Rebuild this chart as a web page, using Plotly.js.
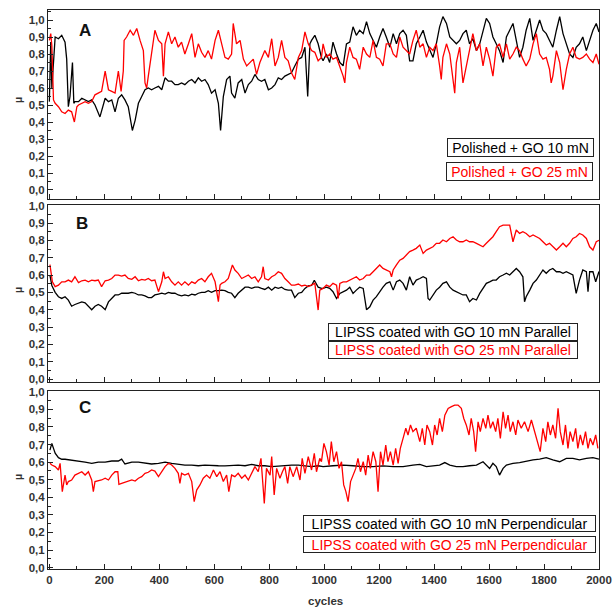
<!DOCTYPE html>
<html>
<head>
<meta charset="utf-8">
<script src="https://cdn.plot.ly/plotly-3.0.1.min.js"></script>
<style>html,body{margin:0;padding:0;background:#fff;}#chart{width:616px;height:608px;}</style>
</head>
<body>
<div id="chart"></div>
<script>
// ---------- DATA ----------
const panelLabels = ["A", "B", "C"];
const seriesNames = [
  ["Polished + GO 10 mN", "Polished + GO 25 mN"],
  ["LIPSS coated with GO 10 mN Parallel", "LIPSS coated with GO 25 mN Parallel"],
  ["LIPSS coated with GO 10 mN Perpendicular", "LIPSS coated with GO 25 mN Perpendicular"]
];
const xTickVals = [0,200,400,600,800,1000,1200,1400,1600,1800,2000];
const xTitle = "cycles";
const yTitle = "μ";

const aBlackX = [0,5,9,21,33,45,57,63,69,75,84,89,93,106,118,130,142,154,166,184,203,215,227,239,251,263,275,287,296,302,312,324,336,348,360,372,384,397,409,421,433,445,457,469,481,493,506,518,530,542,554,566,578,590,603,615,623,633,645,657,663,675,687,700,712,724,736,748,760,772,784,797,809,821,833,845,857,869,881,893,906,918,930,940,948,954,966,978,990,996,1008,1020,1032,1045,1057,1069,1081,1093,1105,1117,1129,1142,1154,1166,1178,1190,1202,1214,1226,1239,1251,1263,1275,1287,1299,1311,1323,1335,1348,1360,1372,1384,1396,1408,1420,1432,1445,1457,1469,1481,1493,1505,1517,1529,1541,1554,1566,1578,1590,1602,1614,1626,1638,1651,1663,1675,1687,1699,1711,1723,1735,1748,1760,1772,1784,1796,1808,1820,1832,1845,1857,1869,1881,1893,1905,1917,1929,1941,1954,1966,1978,1990,2000];
const aBlackY = [0.52,0.87,0.60,0.90,0.89,0.91,0.87,0.77,0.49,0.55,0.75,0.51,0.52,0.52,0.54,0.53,0.52,0.53,0.50,0.43,0.54,0.52,0.53,0.46,0.54,0.56,0.53,0.49,0.41,0.35,0.41,0.51,0.55,0.59,0.60,0.59,0.60,0.61,0.59,0.66,0.64,0.64,0.62,0.62,0.63,0.62,0.64,0.65,0.63,0.66,0.64,0.65,0.62,0.57,0.59,0.51,0.35,0.55,0.65,0.67,0.57,0.54,0.63,0.65,0.57,0.62,0.64,0.68,0.65,0.64,0.65,0.59,0.60,0.62,0.66,0.65,0.67,0.68,0.69,0.73,0.77,0.78,0.84,0.55,0.86,0.88,0.91,0.86,0.78,0.76,0.80,0.75,0.87,0.80,0.75,0.73,0.86,0.87,0.96,0.91,0.94,0.92,0.99,0.92,0.88,0.84,0.90,0.95,0.90,0.84,0.92,0.86,0.92,0.94,0.91,0.76,0.76,0.86,0.90,0.94,0.87,0.82,0.78,0.86,0.96,1.02,0.98,0.90,0.88,0.86,0.88,0.92,0.94,0.86,0.89,0.82,0.86,0.94,1.01,0.98,0.90,0.86,0.82,0.75,0.90,0.94,0.98,0.88,0.78,0.84,0.94,1.01,0.88,0.94,1.00,0.94,0.92,0.88,0.84,0.94,1.02,0.92,0.86,0.80,0.78,0.84,0.86,0.90,0.82,0.88,0.94,0.98,0.93];

const aRedX = [0,5,9,15,21,33,45,57,69,81,91,100,106,118,130,142,154,166,178,190,203,215,227,239,251,261,269,272,281,294,306,318,330,342,348,354,360,372,384,397,409,415,421,433,445,457,469,481,493,506,518,530,542,554,566,578,590,603,615,627,639,651,663,669,681,694,706,718,730,742,754,766,784,797,809,821,833,845,857,869,881,893,906,918,930,942,954,966,978,990,996,1008,1020,1032,1045,1057,1069,1075,1081,1093,1105,1117,1129,1142,1154,1166,1178,1190,1202,1214,1226,1239,1251,1263,1275,1287,1299,1311,1323,1335,1348,1360,1372,1384,1396,1408,1420,1426,1432,1445,1457,1469,1475,1481,1493,1505,1517,1529,1541,1554,1566,1578,1590,1602,1614,1626,1638,1651,1663,1675,1687,1699,1711,1723,1735,1748,1760,1772,1784,1796,1808,1820,1826,1832,1845,1857,1869,1881,1893,1905,1917,1929,1941,1954,1966,1978,1990,2000];
const aRedY = [0.88,0.92,0.85,0.53,0.51,0.49,0.46,0.45,0.47,0.46,0.40,0.49,0.50,0.51,0.52,0.51,0.52,0.56,0.57,0.58,0.70,0.59,0.58,0.57,0.70,0.58,0.70,0.88,0.90,0.94,0.91,0.95,0.88,0.82,0.63,0.60,0.67,0.82,0.94,0.88,0.86,0.67,0.86,0.93,0.86,0.90,0.84,0.87,0.80,0.86,0.92,0.78,0.86,0.81,0.78,0.82,0.77,0.88,0.94,0.86,0.78,0.77,0.80,0.98,0.86,0.88,0.77,0.73,0.75,0.77,0.68,0.75,0.82,0.78,0.89,0.73,0.78,0.88,0.78,0.76,0.69,0.65,0.78,0.82,0.93,0.86,0.82,0.81,0.76,0.78,0.86,0.78,0.80,0.77,0.78,0.73,0.67,0.63,0.75,0.84,0.78,0.77,0.71,0.84,0.80,0.78,0.88,0.78,0.77,0.73,0.86,0.86,0.80,0.78,0.90,0.84,0.82,0.80,0.88,0.94,0.84,0.86,0.78,0.84,0.82,0.86,0.73,0.65,0.78,0.86,0.80,0.63,0.57,0.75,0.84,0.63,0.73,0.84,0.92,0.82,0.86,0.73,0.84,0.77,0.67,0.84,0.86,0.78,0.86,0.77,0.80,0.84,0.82,0.77,0.73,0.77,0.86,0.92,0.80,0.77,0.78,0.71,0.63,0.67,0.82,0.75,0.59,0.71,0.80,0.84,0.78,0.77,0.78,0.80,0.77,0.75,0.80,0.74];

const bBlackX = [2,9,21,33,45,57,69,81,93,106,118,130,142,154,166,178,190,203,215,227,239,251,263,275,287,300,312,324,336,348,360,372,384,397,409,421,433,445,457,469,481,493,506,518,530,542,554,566,578,590,603,615,627,639,651,663,675,687,700,712,724,736,748,760,772,784,797,809,821,833,845,857,869,881,893,906,918,930,942,954,964,978,990,996,1008,1020,1032,1045,1057,1069,1081,1093,1105,1117,1129,1142,1154,1166,1178,1190,1202,1214,1226,1239,1251,1263,1275,1287,1299,1311,1323,1335,1348,1360,1372,1378,1384,1396,1408,1420,1432,1445,1457,1469,1481,1493,1505,1517,1529,1541,1554,1566,1578,1590,1602,1614,1626,1638,1651,1663,1675,1687,1699,1711,1723,1729,1735,1748,1760,1772,1784,1796,1808,1820,1832,1845,1857,1869,1881,1893,1905,1917,1929,1941,1954,1960,1966,1978,1988,2000];
const bBlackY = [0.60,0.54,0.50,0.475,0.465,0.475,0.455,0.42,0.43,0.44,0.445,0.44,0.42,0.40,0.42,0.43,0.42,0.40,0.445,0.465,0.485,0.485,0.495,0.495,0.495,0.50,0.495,0.485,0.485,0.48,0.47,0.47,0.485,0.49,0.495,0.49,0.50,0.495,0.495,0.485,0.48,0.485,0.48,0.49,0.485,0.495,0.50,0.50,0.51,0.50,0.51,0.51,0.513,0.51,0.50,0.495,0.47,0.495,0.513,0.53,0.53,0.523,0.53,0.53,0.523,0.517,0.53,0.513,0.53,0.523,0.53,0.517,0.513,0.513,0.47,0.495,0.50,0.523,0.537,0.54,0.57,0.53,0.523,0.523,0.53,0.523,0.504,0.465,0.494,0.504,0.513,0.53,0.494,0.513,0.53,0.523,0.40,0.417,0.455,0.475,0.504,0.53,0.552,0.561,0.513,0.561,0.571,0.552,0.513,0.59,0.542,0.571,0.58,0.59,0.58,0.465,0.456,0.485,0.513,0.53,0.552,0.561,0.53,0.513,0.504,0.494,0.485,0.485,0.446,0.465,0.456,0.494,0.523,0.552,0.561,0.571,0.571,0.59,0.60,0.61,0.60,0.619,0.638,0.619,0.59,0.446,0.475,0.513,0.552,0.571,0.60,0.629,0.61,0.629,0.638,0.619,0.619,0.61,0.619,0.61,0.60,0.494,0.571,0.629,0.619,0.504,0.619,0.619,0.561,0.62];

const bRedX = [2,11,21,33,45,57,69,81,93,106,118,130,142,154,166,178,190,203,215,227,239,251,263,275,287,300,312,324,336,348,360,372,384,397,409,415,421,433,445,457,469,481,493,506,518,530,542,554,566,578,590,603,615,621,627,639,651,666,675,687,700,712,724,736,748,760,772,778,784,797,809,821,833,845,857,869,881,893,906,918,930,942,954,966,978,984,996,1008,1020,1032,1045,1051,1057,1069,1081,1093,1105,1117,1129,1142,1154,1166,1178,1190,1202,1214,1226,1239,1245,1251,1263,1275,1287,1299,1311,1323,1335,1348,1360,1372,1384,1396,1408,1420,1432,1445,1457,1469,1481,1493,1505,1517,1529,1541,1554,1566,1578,1590,1602,1614,1626,1638,1651,1663,1675,1687,1699,1711,1723,1735,1748,1760,1772,1784,1796,1808,1820,1832,1845,1857,1869,1881,1893,1905,1917,1929,1941,1954,1966,1978,1990,2000];
const bRedY = [0.66,0.561,0.533,0.542,0.561,0.561,0.571,0.561,0.59,0.556,0.567,0.571,0.561,0.571,0.567,0.571,0.533,0.567,0.571,0.58,0.60,0.60,0.594,0.60,0.58,0.575,0.59,0.567,0.575,0.571,0.58,0.567,0.571,0.504,0.561,0.619,0.58,0.59,0.561,0.542,0.561,0.542,0.561,0.542,0.561,0.552,0.571,0.58,0.561,0.59,0.61,0.561,0.446,0.542,0.552,0.561,0.58,0.658,0.629,0.61,0.58,0.59,0.60,0.58,0.59,0.561,0.59,0.648,0.58,0.571,0.59,0.60,0.619,0.61,0.58,0.561,0.542,0.542,0.548,0.537,0.542,0.533,0.542,0.552,0.398,0.513,0.523,0.542,0.533,0.552,0.542,0.465,0.552,0.561,0.561,0.571,0.58,0.59,0.571,0.58,0.60,0.60,0.619,0.638,0.658,0.638,0.629,0.619,0.59,0.629,0.658,0.686,0.696,0.715,0.735,0.744,0.754,0.773,0.725,0.744,0.754,0.763,0.783,0.783,0.802,0.792,0.811,0.821,0.802,0.792,0.792,0.802,0.792,0.792,0.783,0.773,0.763,0.783,0.802,0.821,0.85,0.879,0.888,0.888,0.888,0.792,0.86,0.84,0.85,0.84,0.821,0.831,0.821,0.811,0.792,0.773,0.783,0.763,0.744,0.763,0.783,0.763,0.783,0.811,0.821,0.84,0.831,0.811,0.763,0.744,0.792,0.80];

const cBlackX = [2,9,15,21,33,45,57,81,106,130,154,178,203,227,251,263,275,300,324,348,372,397,421,445,469,493,518,542,566,590,615,639,663,687,712,736,760,784,809,833,857,881,906,930,954,978,996,1032,1069,1105,1142,1178,1214,1251,1287,1323,1348,1372,1396,1420,1439,1457,1481,1505,1529,1554,1578,1590,1602,1614,1626,1638,1651,1663,1687,1711,1735,1760,1784,1808,1832,1857,1881,1905,1929,1954,1978,2000];
const cBlackY = [0.668,0.706,0.678,0.65,0.625,0.616,0.616,0.612,0.606,0.60,0.593,0.60,0.60,0.606,0.606,0.617,0.589,0.60,0.60,0.593,0.589,0.593,0.60,0.593,0.587,0.583,0.583,0.579,0.583,0.579,0.579,0.578,0.579,0.583,0.579,0.587,0.579,0.579,0.574,0.578,0.579,0.583,0.583,0.579,0.574,0.579,0.574,0.579,0.583,0.579,0.574,0.574,0.578,0.574,0.574,0.583,0.587,0.574,0.579,0.583,0.597,0.583,0.574,0.574,0.579,0.583,0.602,0.583,0.564,0.593,0.574,0.526,0.564,0.583,0.593,0.597,0.606,0.612,0.617,0.625,0.612,0.602,0.621,0.621,0.612,0.621,0.625,0.617];

const cRedX = [2,9,21,33,39,47,57,63,69,81,93,106,118,130,142,154,160,166,178,190,203,215,227,239,249,253,263,275,287,300,312,324,336,348,360,372,384,397,409,421,433,445,457,469,475,481,493,506,518,527,536,548,560,572,584,597,609,621,633,645,653,663,675,687,700,712,724,736,748,760,770,778,782,790,803,809,818,827,839,848,857,867,875,887,900,912,920,930,942,954,964,972,984,990,999,1008,1018,1026,1035,1045,1054,1063,1071,1079,1087,1096,1105,1115,1123,1132,1142,1151,1160,1168,1178,1188,1196,1205,1214,1224,1232,1241,1251,1260,1269,1277,1287,1297,1305,1314,1323,1335,1348,1357,1366,1374,1384,1394,1402,1411,1420,1430,1439,1451,1463,1475,1487,1499,1508,1517,1527,1535,1544,1551,1560,1568,1578,1588,1596,1605,1614,1624,1632,1641,1651,1660,1669,1677,1687,1697,1705,1717,1729,1742,1754,1766,1778,1786,1796,1806,1814,1823,1832,1842,1851,1859,1869,1878,1887,1895,1905,1915,1923,1932,1941,1951,1960,1968,1978,1988,1996];
const cRedY = [0.593,0.583,0.574,0.555,0.593,0.432,0.526,0.47,0.489,0.498,0.526,0.536,0.545,0.526,0.545,0.498,0.432,0.489,0.492,0.498,0.508,0.498,0.526,0.545,0.545,0.473,0.479,0.485,0.492,0.498,0.492,0.508,0.517,0.536,0.542,0.555,0.549,0.517,0.545,0.574,0.593,0.583,0.564,0.536,0.479,0.536,0.526,0.536,0.489,0.375,0.441,0.47,0.508,0.526,0.508,0.555,0.517,0.545,0.489,0.526,0.432,0.526,0.517,0.536,0.508,0.526,0.498,0.536,0.574,0.545,0.621,0.451,0.365,0.564,0.526,0.631,0.413,0.564,0.508,0.545,0.574,0.479,0.574,0.517,0.574,0.498,0.621,0.536,0.631,0.555,0.65,0.545,0.621,0.602,0.706,0.659,0.583,0.716,0.602,0.659,0.564,0.602,0.47,0.432,0.375,0.489,0.526,0.564,0.621,0.545,0.602,0.526,0.64,0.564,0.659,0.602,0.432,0.659,0.583,0.697,0.602,0.659,0.583,0.678,0.593,0.678,0.735,0.792,0.754,0.811,0.773,0.792,0.716,0.792,0.697,0.811,0.773,0.697,0.811,0.754,0.848,0.773,0.867,0.905,0.915,0.924,0.924,0.905,0.848,0.811,0.754,0.848,0.773,0.659,0.829,0.773,0.848,0.792,0.867,0.792,0.829,0.773,0.848,0.735,0.886,0.792,0.867,0.773,0.829,0.754,0.839,0.792,0.829,0.773,0.839,0.773,0.716,0.659,0.792,0.716,0.829,0.754,0.811,0.735,0.905,0.773,0.697,0.811,0.678,0.773,0.716,0.792,0.678,0.754,0.697,0.773,0.678,0.735,0.697,0.754,0.678];

// ---------- LAYOUT HELPERS ----------
const W = 616, H = 608;
const PL = 48, PR = 599, PT = 10, PB = 569;
const px = v => (v - PL) / (PR - PL);
const py = v => (PB - v) / (PB - PT);
const FONT = "Liberation Sans, Arial, Helvetica, sans-serif";
const BLACK = "#000000", RED = "#ff0000";

const panels = [
  {bx: aBlackX, by: aBlackY, rx: aRedX, ry: aRedY, top: 10, bot: 199, yr: [-0.053, 1.059]},
  {bx: bBlackX, by: bBlackY, rx: bRedX, ry: bRedY, top: 205, bot: 382, yr: [-0.017, 1.004]},
  {bx: cBlackX, by: cBlackY, rx: cRedX, ry: cRedY, top: 391, bot: 569, yr: [-0.008, 1.004]}
];

const traces = [];
const layout = {
  width: W, height: H,
  margin: {l: PL, r: W - PR, t: PT, b: H - PB},
  paper_bgcolor: "#ffffff", plot_bgcolor: "#ffffff",
  showlegend: false,
  separators: ",.",
  font: {family: FONT, color: "#222"},
  annotations: []
};

panels.forEach((p, i) => {
  const n = i === 0 ? "" : String(i + 1);
  traces.push({x: p.bx, y: p.by, type: "scatter", mode: "lines", line: {color: BLACK, width: 1.3}, xaxis: "x" + n, yaxis: "y" + n, name: seriesNames[i][0], hoverinfo: "skip"});
  traces.push({x: p.rx, y: p.ry, type: "scatter", mode: "lines", line: {color: RED, width: 1.3}, xaxis: "x" + n, yaxis: "y" + n, name: seriesNames[i][1], hoverinfo: "skip"});
  layout["xaxis" + n] = {
    domain: [0, 1], anchor: "y" + n, range: [-5, 2000],
    showline: true, mirror: true, linecolor: "#222", linewidth: 1,
    ticks: "inside", ticklen: 5, tickwidth: 1, tickcolor: "#222",
    tickvals: xTickVals, ticktext: xTickVals.map(String),
    minor: {ticks: "inside", ticklen: 3, dtick: 100, tick0: 0, tickcolor: "#222"},
    showgrid: false, zeroline: false,
    showticklabels: i === 2,
    tickfont: {family: FONT, size: 11.5, color: "#333", weight: "bold"}
  };
  layout["yaxis" + n] = {
    domain: [py(p.bot), py(p.top)], anchor: "x" + n, range: p.yr,
    showline: true, mirror: true, linecolor: "#222", linewidth: 1,
    ticks: "inside", ticklen: 5, tickwidth: 1, tickcolor: "#222",
    dtick: 0.1, tick0: 0, tickformat: ".1f",
    minor: {ticks: "inside", ticklen: 3, dtick: 0.05, tick0: 0, tickcolor: "#222"},
    showgrid: false, zeroline: false,
    tickfont: {family: FONT, size: 11.5, color: "#333", weight: "bold"}
  };
});

// panel letters
const letterPos = [[85, 30], [82, 224], [85, 407]];
panelLabels.forEach((t, i) => {
  layout.annotations.push({text: "<b>" + t + "</b>", xref: "paper", yref: "paper", x: px(letterPos[i][0]), y: py(letterPos[i][1]), xanchor: "center", yanchor: "middle", showarrow: false, font: {family: FONT, size: 17, color: "#111"}});
});
// y titles
[100, 290, 477].forEach(yy => {
  layout.annotations.push({text: "<b>" + yTitle + "</b>", xref: "paper", yref: "paper", x: px(18), y: py(yy), xanchor: "center", yanchor: "middle", textangle: -90, showarrow: false, font: {family: FONT, size: 10, color: "#333"}});
});
// x title
layout.annotations.push({text: "<b>" + xTitle + "</b>", xref: "paper", yref: "paper", x: px(325), y: py(601), xanchor: "center", yanchor: "middle", showarrow: false, font: {family: FONT, size: 11.5, color: "#333"}});

// legend boxes: [x0, x1, y0, y1]
const boxes = [
  [[447, 593, 139, 157], [446, 592, 162, 180]],
  [[328, 577, 324, 341], [328, 577, 341, 358]],
  [[303, 595, 515, 531], [303, 595, 536, 552]]
];
boxes.forEach((pair, i) => {
  pair.forEach((b, j) => {
    layout.annotations.push({
      text: seriesNames[i][j], xref: "paper", yref: "paper",
      x: px((b[0] + b[1]) / 2), y: py((b[2] + b[3]) / 2), xanchor: "center", yanchor: "middle",
      width: b[1] - b[0] - 3, height: b[3] - b[2] - 3, align: "center", valign: "middle",
      showarrow: false, bgcolor: "#ffffff", bordercolor: "#222", borderwidth: 1, borderpad: 1,
      font: {family: FONT, size: 14, color: j === 0 ? BLACK : RED}
    });
  });
});

Plotly.newPlot("chart", traces, layout, {staticPlot: true, displayModeBar: false});
</script>
</body>
</html>
